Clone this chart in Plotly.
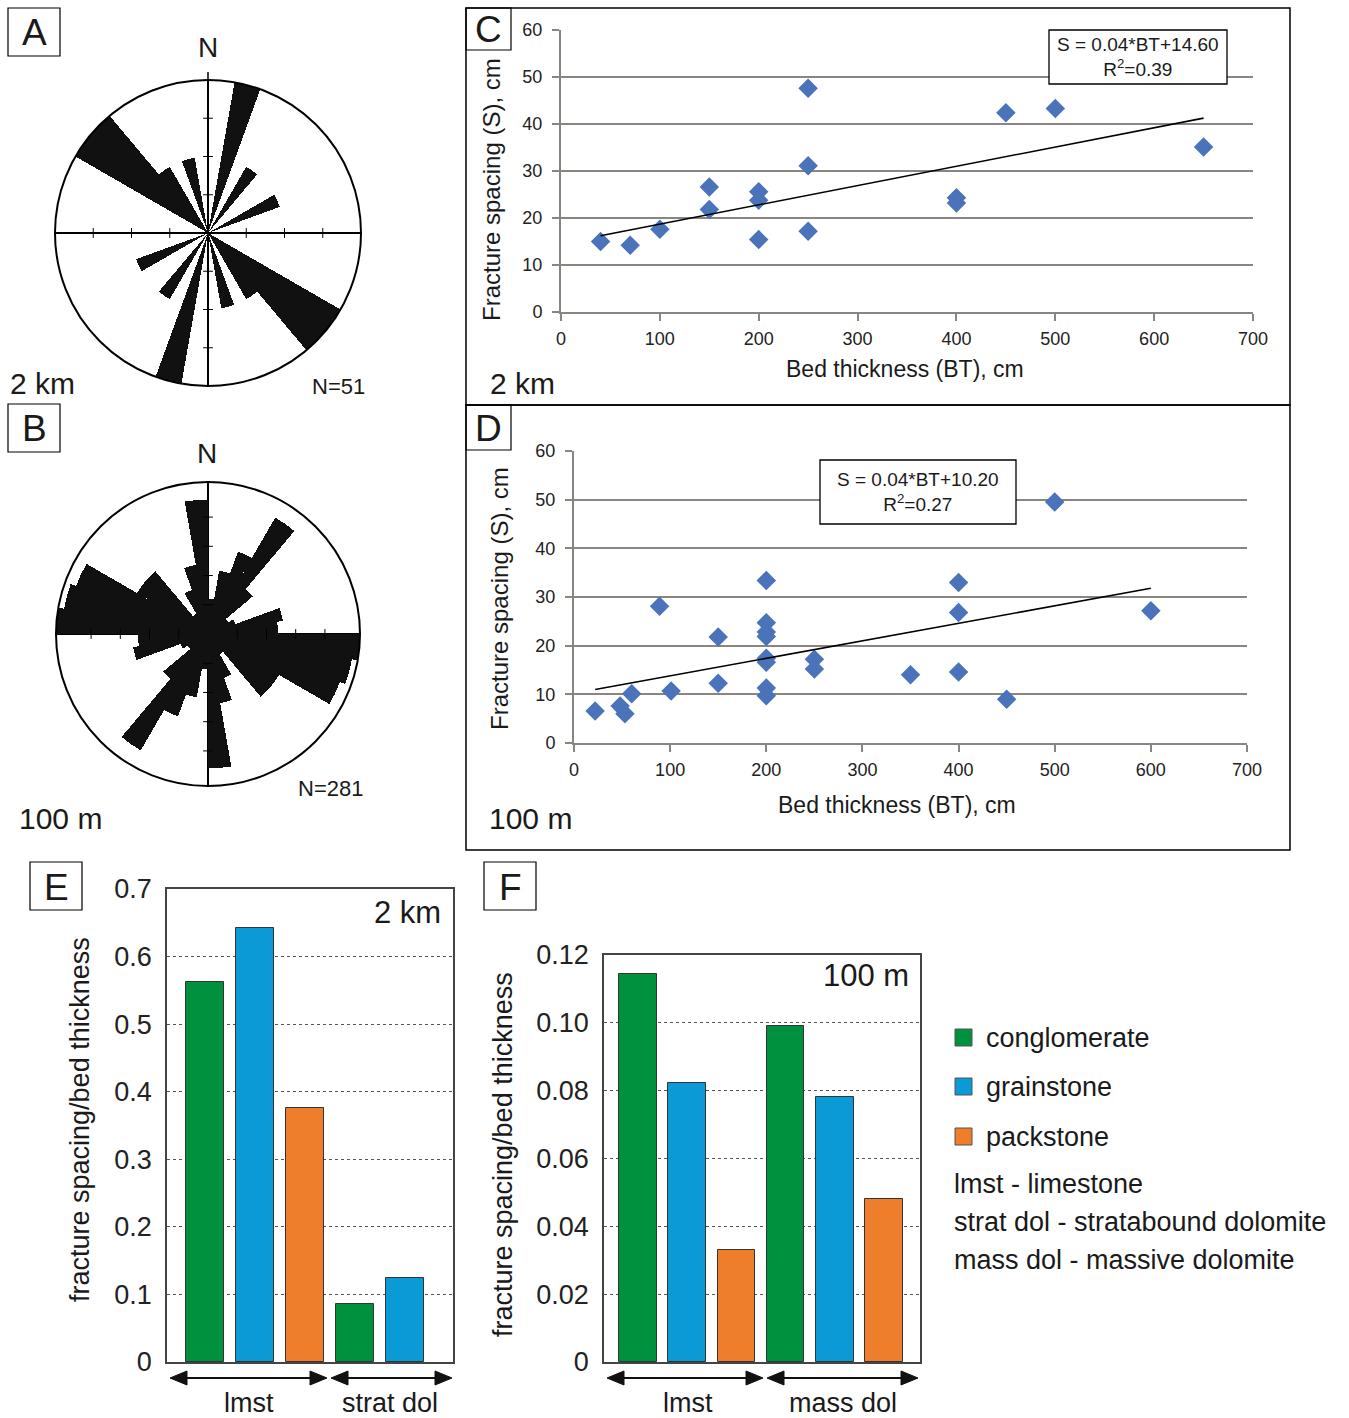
import plotly.graph_objects as go

W, H = 1349, 1418
def px(x): return x / W
def py(y): return 1 - y / H

FONT = "Liberation Sans, Arial, sans-serif"

# ---------------- data ----------------
rose_bin_centres = [5 + 10 * i for i in range(36)]
# panel A (2 km), N=51 : counts per 10 degree bin, 0-10 ... 350-360
roseA_counts = [0, 10, 0, 5, 0, 0, 5, 0, 0, 0, 0, 0, 10, 10, 5, 0, 5, 0,
                0, 10, 0, 5, 0, 0, 5, 0, 0, 0, 0, 0, 10, 10, 5, 0, 5, 0]
roseA_max = 10
roseA_ticks = [2.5, 5, 7.5]
# panel B (100 m), N=281
roseB_counts = [6, 11, 15, 23, 10, 4, 5, 13, 12, 26, 25, 24, 14, 14, 4, 8, 12, 23,
                6, 11, 15, 23, 10, 4, 5, 13, 12, 26, 25, 24, 14, 14, 4, 8, 12, 23]
roseB_max = 26
roseB_ticks = [5, 10, 15, 20]

# panel C (2 km)
C_bt = [40, 70, 100, 150, 150, 200, 200, 200, 250, 250, 250, 400, 400, 450, 500, 650]
C_s = [15.0, 14.2, 17.6, 26.6, 21.8, 25.6, 23.8, 15.4, 47.6, 31.1, 17.2, 24.3, 23.2, 42.4, 43.3, 35.1]
C_slope, C_intercept = 0.041, 14.6
C_eq = "S = 0.04*BT+14.60<br>R<sup>2</sup>=0.39"

# panel D (100 m)
D_bt = [22, 48, 53, 60, 89, 101, 150, 150, 200, 200, 200, 200, 200, 200, 200, 200,
        250, 250, 350, 400, 400, 400, 450, 500, 600]
D_s = [6.6, 7.6, 6.0, 10.1, 28.1, 10.7, 21.8, 12.3, 33.4, 24.7, 22.8, 21.9, 17.4, 16.6,
       11.3, 9.7, 17.2, 15.2, 14.0, 33.0, 26.8, 14.6, 9.0, 49.5, 27.2]
D_slope, D_intercept = 0.036, 10.2
D_eq = "S = 0.04*BT+10.20<br>R<sup>2</sup>=0.27"

scatter_ticks = [0, 100, 200, 300, 400, 500, 600, 700]

# panel E (2 km)
E_group = ["lmst", "lmst", "lmst", "strat dol", "strat dol"]
E_lith = ["conglomerate", "grainstone", "packstone", "conglomerate", "grainstone"]
E_val = [0.562, 0.643, 0.376, 0.086, 0.124]
E_ticks = [0, 0.1, 0.2, 0.3, 0.4, 0.5, 0.6, 0.7]
E_ticktext = ["0", "0.1", "0.2", "0.3", "0.4", "0.5", "0.6", "0.7"]

# panel F (100 m)
F_group = ["lmst", "lmst", "lmst", "mass dol", "mass dol", "mass dol"]
F_lith = ["conglomerate", "grainstone", "packstone", "conglomerate", "grainstone", "packstone"]
F_val = [0.1144, 0.0822, 0.033, 0.099, 0.078, 0.048]
F_ticks = [0, 0.02, 0.04, 0.06, 0.08, 0.10, 0.12]
F_ticktext = ["0", "0.02", "0.04", "0.06", "0.08", "0.10", "0.12"]

lith_names = ["conglomerate", "grainstone", "packstone"]
lith_colors = {"conglomerate": "#00913f", "grainstone": "#0a9ad6", "packstone": "#ee7d2c"}
abbrev_text = ["lmst - limestone", "strat dol - stratabound dolomite", "mass dol - massive dolomite"]

fig = go.Figure()

# ---------------- rose diagrams ----------------
for sub, counts, ticks in (("polar", roseA_counts, roseA_ticks), ("polar2", roseB_counts, roseB_ticks)):
    fig.add_trace(go.Barpolar(r=counts, theta=rose_bin_centres, width=10, subplot=sub,
                              marker=dict(color="#111111", line=dict(width=0)), hoverinfo="r+theta"))
    fig.add_trace(go.Scatterpolar(r=ticks * 2, theta=[0] * len(ticks) + [180] * len(ticks), mode="markers",
                                  subplot=sub, marker=dict(symbol="line-ew", size=7, color="black",
                                                           line=dict(width=1, color="black"))))
    fig.add_trace(go.Scatterpolar(r=ticks * 2, theta=[90] * len(ticks) + [270] * len(ticks), mode="markers",
                                  subplot=sub, marker=dict(symbol="line-ns", size=7, color="black",
                                                           line=dict(width=1, color="black"))))

def polar_layout(x0, y0, x1, y1, rmax):
    return dict(domain=dict(x=[px(x0), px(x1)], y=[py(y1), py(y0)]), bgcolor="white",
                radialaxis=dict(visible=False, range=[0, rmax]),
                angularaxis=dict(direction="clockwise", rotation=90, tickvals=[0, 90, 180, 270],
                                 showticklabels=False, ticks="", showgrid=True, gridcolor="black",
                                 gridwidth=1.5, showline=True, linecolor="black", linewidth=2))

# ---------------- scatter panels ----------------
GRID = "#8a8581"
for i, (bt, s, slope, icpt) in enumerate(((C_bt, C_s, C_slope, C_intercept), (D_bt, D_s, D_slope, D_intercept))):
    xa = "x" if i == 0 else "x2"
    ya = "y" if i == 0 else "y2"
    fig.add_trace(go.Scatter(x=bt, y=s, mode="markers", xaxis=xa, yaxis=ya,
                             marker=dict(symbol="diamond", size=15, color="#4a73ba")))
    xs = [min(bt), max(bt)]
    fig.add_trace(go.Scatter(x=xs, y=[slope * v + icpt for v in xs], mode="lines", xaxis=xa, yaxis=ya,
                             line=dict(color="black", width=1.6)))

def sc_x(x0, x1, anchor):
    return dict(domain=[px(x0), px(x1)], range=[0, 700], anchor=anchor, tickvals=scatter_ticks,
                ticks="outside", ticklen=7, tickwidth=1.5, tickcolor=GRID, showline=True, linecolor=GRID,
                linewidth=2, showgrid=False, zeroline=False, ticklabelstandoff=2, automargin=False,
                tickfont=dict(family=FONT, size=18, color="#222"))

def sc_y(y0, y1, anchor):
    return dict(domain=[py(y1), py(y0)], range=[0, 60], anchor=anchor, tickvals=[0, 10, 20, 30, 40, 50, 60],
                ticks="outside", ticklen=7, tickwidth=1.5, tickcolor=GRID, showline=True, linecolor=GRID,
                linewidth=2, showgrid=True, gridcolor=GRID, gridwidth=2, zeroline=False, ticklabelstandoff=6,
                automargin=False, tickfont=dict(family=FONT, size=18, color="#222"))

# ---------------- bar panels ----------------
for xa, ya, lith, vals in (("x3", "y3", E_lith, E_val), ("x4", "y4", F_lith, F_val)):
    for name in lith_names:
        idx = [k for k, l in enumerate(lith) if l == name]
        if not idx:
            continue
        fig.add_trace(go.Bar(x=idx, y=[vals[k] for k in idx], width=0.76, xaxis=xa, yaxis=ya, name=name,
                             marker=dict(color=lith_colors[name], line=dict(color="#333", width=1))))

def bar_x(x0, x1, anchor, rng):
    return dict(domain=[px(x0), px(x1)], range=rng, anchor=anchor, showticklabels=False,
                ticks="", showgrid=False, zeroline=False, showline=True, mirror=True,
                linecolor="#444", linewidth=1.5, automargin=False)

def bar_y(y0, y1, anchor, rng, tv, tt):
    return dict(domain=[py(y1), py(y0)], range=rng, anchor=anchor, tickvals=tv, ticktext=tt, ticks="",
                showgrid=True, gridcolor="#555", gridwidth=1, griddash="dot", zeroline=False,
                showline=True, mirror=True, linecolor="#444", linewidth=1.5, ticklabelstandoff=8,
                automargin=False, tickfont=dict(family=FONT, size=27, color="#222"))

# ---------------- annotations & shapes ----------------
ann = []
def T(text, x, y, size, xanchor="center", angle=0, color="#1a1a1a"):
    ann.append(dict(text=text, x=px(x), y=py(y), xref="paper", yref="paper", showarrow=False,
                    xanchor=xanchor, yanchor="middle", textangle=angle,
                    font=dict(family=FONT, size=size, color=color)))

shapes = []
def R(x0, y0, x1, y1, lw=1.5, color="black", fill=None):
    d = dict(type="rect", xref="paper", yref="paper", x0=px(x0), x1=px(x1), y0=py(y1), y1=py(y0),
             line=dict(color=color, width=lw))
    if fill:
        d["fillcolor"] = fill
    shapes.append(d)

def arrow(x0, x1, y):
    shapes.append(dict(type="line", xref="paper", yref="paper", x0=px(x0 + 12), x1=px(x1 - 12),
                       y0=py(y), y1=py(y), line=dict(color="#111", width=2)))
    for tip, back in ((x0, x0 + 17), (x1, x1 - 17)):
        path = "M{},{} L{},{} L{},{} Z".format(px(tip), py(y), px(back), py(y - 7), px(back), py(y + 7))
        shapes.append(dict(type="path", xref="paper", yref="paper", path=path,
                           fillcolor="#111", line=dict(color="#111", width=1)))

# label boxes
for lab, x0, y0, x1, y1 in (("A", 8, 8, 60, 56), ("B", 8, 404, 60, 452), ("C", 466, 8, 511, 50),
                             ("D", 466, 405, 511, 450), ("E", 30, 862, 82, 910), ("F", 484, 862, 536, 910)):
    R(x0, y0, x1, y1, lw=1.2, fill="white")
    T(lab, (x0 + x1) / 2, (y0 + y1) / 2 + 1, 37)

# panel frames C, D
R(466, 8, 1290, 405, lw=1.5)
R(466, 405, 1290, 850, lw=1.5)
# north line extension above rose A
shapes.append(dict(type="line", xref="paper", yref="paper", x0=px(208), x1=px(208), y0=py(72), y1=py(81),
                   line=dict(color="black", width=1.5)))

# rose texts
T("N", 208, 48, 28)
T("2 km", 8, 383, 30, xanchor="left")
T("N=51", 338, 386, 22)
T("N", 207, 454, 28)
T("100 m", 60, 818, 30)
T("N=281", 330, 788, 22)

# scatter texts
T("Fracture spacing (S), cm", 491, 190, 24, angle=-90)
T("Bed thickness (BT), cm", 905, 369, 23)
T("2 km", 522, 383, 30)
T("Fracture spacing (S), cm", 499, 599, 24, angle=-90)
T("Bed thickness (BT), cm", 897, 805, 23)
T("100 m", 530, 818, 30)
for eq, x0, y0, x1, y1 in ((C_eq, 1049, 30, 1227, 84), (D_eq, 820, 460, 1016, 524)):
    R(x0, y0, x1, y1, lw=1.3, fill="white")
    ann.append(dict(text=eq, x=px((x0 + x1) / 2), y=py((y0 + y1) / 2), xref="paper", yref="paper",
                    showarrow=False, xanchor="center", yanchor="middle", align="center",
                    font=dict(family=FONT, size=19, color="#1a1a1a")))

# bar panel texts
T("fracture spacing/bed thickness", 80, 1120, 27, angle=-90)
T("2 km", 443, 912, 31, xanchor="right")
T("fracture spacing/bed thickness", 503, 1155, 27, angle=-90)
T("100 m", 911, 975, 31, xanchor="right")
arrow(170, 327, 1378)
arrow(331, 452, 1378)
arrow(607, 763, 1378)
arrow(767, 918, 1378)
T(E_group[0], 249, 1403, 27)
T(E_group[3], 390, 1403, 27)
T(F_group[0], 688, 1403, 27)
T(F_group[3], 843, 1403, 27)

# legend
for name, yc in zip(lith_names, (1038, 1087, 1137)):
    R(955, yc - 9, 972, yc + 8, lw=1, color="#555", fill=lith_colors[name])
    T(name, 984, yc, 27, xanchor="left")
for txt, yc in zip(abbrev_text, (1184, 1222, 1260)):
    T(txt, 952, yc, 27, xanchor="left")

fig.update_layout(
    width=W, height=H, margin=dict(l=0, r=0, t=0, b=0, pad=0, autoexpand=False), autosize=False,
    paper_bgcolor="white", plot_bgcolor="white", showlegend=False, bargap=0,
    font=dict(family=FONT, color="#1a1a1a"),
    polar=polar_layout(55, 80, 361, 386, roseA_max),
    polar2=polar_layout(56, 482, 360, 786, roseB_max),
    xaxis=sc_x(561, 1253, "y"), yaxis=sc_y(30, 312, "x"),
    xaxis2=sc_x(574, 1247, "y2"), yaxis2=sc_y(451, 743, "x2"),
    xaxis3=bar_x(167, 453, "y3", [-0.76, 4.96]),
    yaxis3=bar_y(889, 1362, "x3", [0, 0.7], E_ticks, E_ticktext),
    xaxis4=bar_x(604, 920, "y4", [-0.69, 5.73]),
    yaxis4=bar_y(955, 1362, "x4", [0, 0.12], F_ticks, F_ticktext),
    annotations=ann, shapes=shapes,
)

fig.write_html("out.html", config={"displayModeBar": False})
